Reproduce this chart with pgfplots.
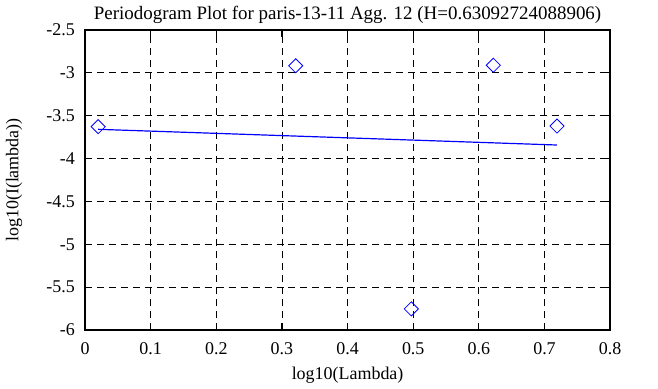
\documentclass[border=0pt]{standalone}
\usepackage{pgfplots}
\pgfplotsset{compat=1.18}
\usepackage{fontspec}
\setmainfont{Liberation Serif}
\begin{document}
\fontsize{18}{21}\selectfont
\begin{tikzpicture}
\begin{axis}[
  scale only axis,
  width=526.5pt, height=301pt,
  xmin=0, xmax=0.8, ymin=-6, ymax=-2.5,
  xtick={0,0.1,...,0.8},
  ytick={-6,-5.5,...,-2.5},
  xticklabels={0,0.1,0.2,0.3,0.4,0.5,0.6,0.7,0.8},
  yticklabels={-6,-5.5,-5,-4.5,-4,-3.5,-3,-2.5},
  tick align=inside,
  major tick length=7pt,
  tick style={black, line width=1.2pt},
  axis line style={black, line width=2pt},
  grid=major,
  major grid style={black, line width=0.8pt, dash pattern=on 7pt off 5pt},
  title={Periodogram Plot for paris-13-11 Agg. 12 (H=0.63092724088906)},
  xlabel={log10(Lambda)},
  ylabel={log10(I(lambda))},
  xlabel style={yshift=0pt},
  ylabel style={yshift=12pt},
  /pgf/number format/assume math mode=true,
  every tick label/.append style={font=\fontsize{18}{21}\selectfont},
  label style={font=\fontsize{18}{21}\selectfont},
  title style={font=\fontsize{19}{22}\selectfont, yshift=-6pt},
  xticklabel style={yshift=-6pt},
  yticklabel style={xshift=-4pt},
  clip=false,
]
\addplot[only marks, mark=square, mark size=5pt, draw=blue, mark options={rotate=45, line width=0.8pt}] coordinates {
  (0.0200,-3.628) (0.3210,-2.918) (0.4971,-5.752) (0.6221,-2.912) (0.7190,-3.621)
};
\addplot[blue, line width=1.2pt] coordinates {(0.0200,-3.659) (0.7190,-3.842)};
\end{axis}
\path (current axis.south west) ++(-83.5pt,-56pt) coordinate (bl);
\path (current axis.north east) ++(48pt,30pt) coordinate (tr);
\path (bl) rectangle (tr);
\end{tikzpicture}
\end{document}
